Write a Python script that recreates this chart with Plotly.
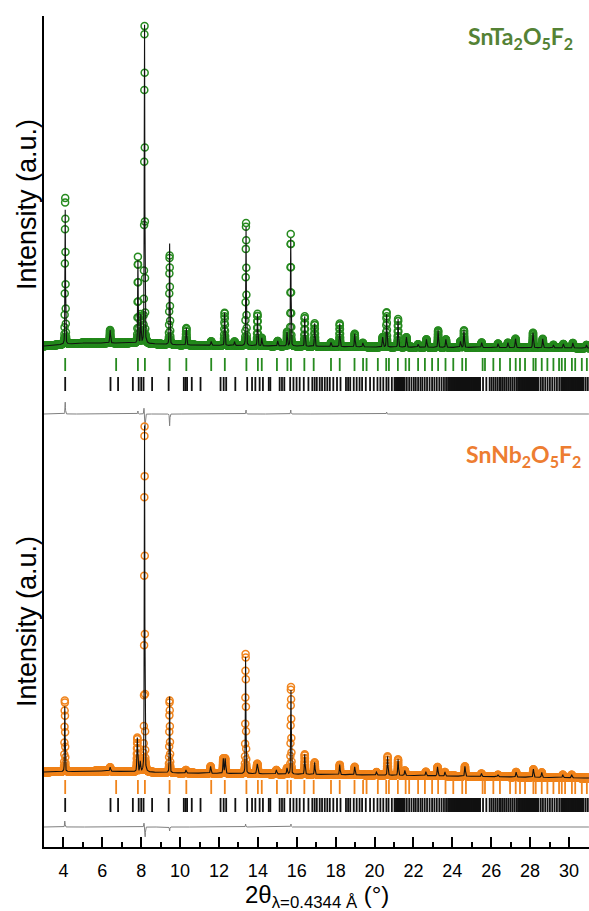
import numpy as np
import plotly.graph_objects as go

# ------------------------------------------------------------------
# DATA
# ------------------------------------------------------------------
# measurement grid (2theta, deg)
scan_start, scan_end, scan_step = 3.0, 31.03, 0.006

# --- SnTa2O5F2 (top pattern): calculated peaks ---
ta_peak_pos = [4.09, 6.40, 7.83, 7.98, 8.17, 9.46, 10.32, 11.60, 12.29, 12.80,
               13.39, 13.98, 14.20, 15.02, 15.50, 15.69, 16.41, 16.92, 17.76, 18.21,
               18.98, 19.40, 20.42, 20.62, 21.21, 21.64, 22.24, 22.67, 23.27, 23.67,
               24.42, 24.60, 25.51, 26.35, 26.86, 27.25, 28.15, 28.65, 29.20, 29.71,
               30.20, 30.90]
ta_peak_height = [136, 13, 83, 28, 322, 102, 17, 4, 33, 4,
                  120, 32, 8, 5, 14, 108, 30, 23, 4, 23,
                  13, 4, 10, 33, 28, 10, 3, 8, 17, 8,
                  6, 17, 5, 4, 5, 9, 15, 9, 3, 4,
                  5, 3]
ta_peak_fwhm = [0.035, 0.05, 0.035, 0.04, 0.035, 0.035, 0.045, 0.05, 0.04, 0.05,
                0.035, 0.04, 0.04, 0.05, 0.04, 0.035, 0.04, 0.04, 0.05, 0.04,
                0.045, 0.05, 0.05, 0.04, 0.04, 0.05, 0.05, 0.05, 0.045, 0.05,
                0.05, 0.045, 0.05, 0.05, 0.05, 0.05, 0.05, 0.05, 0.05, 0.05,
                0.05, 0.05]
# obs - calc residual features
ta_diff_pos = [4.09, 7.83, 8.14, 8.20, 9.46, 13.39, 15.69, 20.62]
ta_diff_amp = [12, 3, 6, -16, -12, 4, 4, 2]
# background anchor points
ta_bg_pos = [3.0, 5.0, 7.5, 10.0, 20.0, 31.0]
ta_bg_val = [4, 7, 7, 5, 3, 2]

# --- SnNb2O5F2 (bottom pattern): calculated peaks ---
nb_peak_pos = [4.07, 6.40, 7.80, 7.95, 8.17, 9.46, 10.30, 11.57, 12.22, 12.32,
               13.37, 13.97, 14.95, 15.50, 15.70, 16.41, 16.92, 18.21, 18.98, 20.10,
               20.67, 21.21, 21.56, 22.64, 23.24, 23.62, 24.65, 25.50, 26.35, 27.28,
               28.17, 28.60, 29.68, 30.14]
nb_peak_height = [66, 4, 34, 10, 350, 77, 3, 7, 15, 15,
                  118, 10, 4, 6, 85, 20, 12, 10, 8, 3,
                  19, 16, 5, 4, 9, 4, 10, 3, 2, 5,
                  8, 5, 3, 3]
nb_peak_fwhm = [0.035, 0.05, 0.05, 0.05, 0.035, 0.035, 0.05, 0.05, 0.05, 0.05,
                0.035, 0.07, 0.05, 0.05, 0.035, 0.045, 0.045, 0.045, 0.045, 0.05,
                0.045, 0.045, 0.05, 0.05, 0.05, 0.05, 0.05, 0.05, 0.05, 0.05,
                0.05, 0.05, 0.05, 0.05]
nb_diff_pos = [4.07, 8.14, 8.20, 9.46, 13.37, 15.70]
nb_diff_amp = [6, 4, -10, -4, 3, 3]
nb_bg_pos = [3.0, 6.0, 10.0, 20.0, 31.0]
nb_bg_val = [8, 9, 7, 5, 2]

# --- reflection markers ---
main_phase_refl = [4.09, 6.71, 7.83, 8.19, 9.46, 10.32, 11.60, 12.30, 13.41, 14.00,
                   14.20, 14.98, 15.52, 15.70, 16.39, 16.87, 17.76, 18.21, 18.97, 19.41,
                   19.59, 20.17, 20.60, 20.74, 21.20, 21.60, 21.78, 22.24, 22.59, 22.96,
                   23.27, 23.65, 24.05, 24.51, 24.70, 25.56, 25.68, 26.11, 26.45, 26.97,
                   27.26, 27.48, 27.74, 28.17, 28.29, 28.60, 28.89, 29.20, 29.49, 29.63,
                   29.80, 30.15, 30.32, 30.66, 30.92]
second_phase_refl = [4.09, 6.42, 6.81, 7.57, 7.87, 8.00, 8.12, 8.56, 9.41, 10.19,
                     10.28, 10.36, 10.60, 11.05, 12.08, 12.24, 12.37, 12.84, 13.45, 13.70,
                     13.87, 14.09, 14.26, 14.56, 14.64, 15.12, 15.24, 15.36, 15.66, 15.83,
                     15.99, 16.15, 16.36, 16.60, 16.80, 16.92, 17.03, 17.18, 17.30, 17.44,
                     17.57, 17.70, 17.88, 18.07, 18.25, 18.53, 18.64, 18.75, 18.93, 19.08,
                     19.23, 19.36, 19.55, 19.77, 19.96, 20.15, 20.30, 20.45, 20.61, 20.72,
                     20.89, 21.03, 21.10, 21.15, 21.20, 21.25, 21.30, 21.35, 21.40, 21.45,
                     21.50, 21.55, 21.66, 21.78, 21.90, 22.02, 22.12, 22.24, 22.36, 22.46,
                     22.58, 22.70, 22.83, 22.96, 23.08, 23.20, 23.33, 23.45, 23.57, 23.68,
                     23.78, 23.83, 23.88, 23.93, 23.98, 24.03, 24.08, 24.13, 24.18, 24.23,
                     24.28, 24.33, 24.38, 24.43, 24.48, 24.53, 24.58, 24.63, 24.68, 24.73,
                     24.78, 24.83, 24.88, 24.93, 24.98, 25.03, 25.08, 25.13, 25.18, 25.23,
                     25.28, 25.33, 25.38, 25.43, 25.58, 25.75, 25.92, 26.02, 26.12, 26.22,
                     26.32, 26.42, 26.50, 26.60, 26.70, 26.80, 26.90, 27.00, 27.10, 27.20,
                     27.30, 27.38, 27.43, 27.48, 27.53, 27.58, 27.63, 27.68, 27.73, 27.78,
                     27.83, 27.88, 27.93, 27.98, 28.03, 28.08, 28.13, 28.18, 28.23, 28.28,
                     28.33, 28.38, 28.43, 28.55, 28.66, 28.78, 28.90, 29.02, 29.14, 29.26,
                     29.38, 29.50, 29.60, 29.65, 29.70, 29.75, 29.80, 29.85, 29.90, 29.95,
                     30.00, 30.05, 30.10, 30.15, 30.20, 30.25, 30.30, 30.35, 30.40, 30.45,
                     30.50, 30.55, 30.60, 30.65, 30.70, 30.75, 30.86, 30.97]

# axis
x_range = [3.0, 31.03]
x_tick_vals = [4, 6, 8, 10, 12, 14, 16, 18, 20, 22, 24, 26, 28, 30]

# ------------------------------------------------------------------
# PROFILE BUILDING
# ------------------------------------------------------------------
tt = np.arange(scan_start, scan_end, scan_step)


def pseudo_voigt(x, pos, height, fwhm, eta=0.35):
    out = np.zeros_like(x)
    for p, h, w in zip(pos, height, fwhm):
        d = (x - p) / w
        g = np.exp(-4 * np.log(2) * d * d)
        l = 1.0 / (1.0 + 4 * d * d)
        out += h * (eta * l + (1 - eta) * g)
    return out


def patterns(pk_pos, pk_h, pk_w, df_pos, df_amp, bg_pos, bg_val):
    bg = np.interp(tt, bg_pos, bg_val)
    calc = bg + pseudo_voigt(tt, pk_pos, pk_h, pk_w)
    resid = pseudo_voigt(tt, df_pos, df_amp, [0.03] * len(df_pos), eta=0.2)
    obs = calc + resid
    return obs, calc, resid


ta_obs, ta_calc, ta_res = patterns(ta_peak_pos, ta_peak_height, ta_peak_fwhm,
                                   ta_diff_pos, ta_diff_amp, ta_bg_pos, ta_bg_val)
nb_obs, nb_calc, nb_res = patterns(nb_peak_pos, nb_peak_height, nb_peak_fwhm,
                                   nb_diff_pos, nb_diff_amp, nb_bg_pos, nb_bg_val)

# vertical stacking levels (in plot units)
Y_TOP = 831
ta_level, ta_tick1, ta_tick2, ta_diff_level = 497, (476, 489), (456, 470), 433
nb_level, nb_tick1, nb_tick2, nb_diff_level = 67, (53, 67), (35, 49), 20

GREEN = "#268a1f"
ORANGE = "#f0841c"
BLACK = "#111111"
GREY = "#7f7f7f"


def tick_segments(positions, y0, y1):
    xs, ys = [], []
    for p in positions:
        xs += [p, p, None]
        ys += [y0, y1, None]
    return xs, ys


fig = go.Figure()


def add_panel(obs, calc, res, level, t1, t2, dlevel, color):
    fig.add_trace(go.Scatter(x=tt, y=obs + level, mode="markers",
                             marker=dict(symbol="circle-open", size=7, color=color,
                                         line=dict(width=1.5, color=color)),
                             hoverinfo="skip", showlegend=False))
    fig.add_trace(go.Scatter(x=tt, y=calc + level, mode="lines",
                             line=dict(color=BLACK, width=1.1),
                             hoverinfo="skip", showlegend=False))
    xs, ys = tick_segments(main_phase_refl, *t1)
    fig.add_trace(go.Scatter(x=xs, y=ys, mode="lines", line=dict(color=color, width=1.8),
                             hoverinfo="skip", showlegend=False))
    xs, ys = tick_segments(second_phase_refl, *t2)
    fig.add_trace(go.Scatter(x=xs, y=ys, mode="lines", line=dict(color=BLACK, width=1.8),
                             hoverinfo="skip", showlegend=False))
    fig.add_trace(go.Scatter(x=tt, y=res + dlevel, mode="lines",
                             line=dict(color=GREY, width=1.0),
                             hoverinfo="skip", showlegend=False))


add_panel(ta_obs, ta_calc, ta_res, ta_level, ta_tick1, ta_tick2, ta_diff_level, GREEN)
add_panel(nb_obs, nb_calc, nb_res, nb_level, nb_tick1, nb_tick2, nb_diff_level, ORANGE)

AX_FONT = "Liberation Sans, Arial, sans-serif"

fig.update_layout(
    width=589, height=911,
    margin=dict(l=44, r=0, t=16, b=64),
    paper_bgcolor="white", plot_bgcolor="white",
    showlegend=False,
    xaxis=dict(range=x_range, showline=True, linecolor="black", linewidth=2,
               ticks="inside", ticklen=10, tickwidth=1.6, tickcolor="black",
               tickvals=x_tick_vals, ticktext=[str(v) for v in x_tick_vals],
               ticklabelstandoff=6,
               minor=dict(dtick=1, tick0=0, ticks="inside", ticklen=5, tickwidth=1.6,
                          tickcolor="black"),
               showgrid=False, zeroline=False,
               tickfont=dict(family=AX_FONT, size=18, color="black")),
    yaxis=dict(range=[0, Y_TOP], showline=True, linecolor="black", linewidth=2,
               showticklabels=False, ticks="", showgrid=False, zeroline=False),
)

annotations = [
    dict(text="<b>SnTa<sub>2</sub>O<sub>5</sub>F<sub>2</sub></b>", x=30.31, y=810,
         xref="x", yref="y", xanchor="right", yanchor="middle", showarrow=False,
         font=dict(family="Lato, Open Sans, sans-serif", size=23, color="#548235")),
    dict(text="<b>SnNb<sub>2</sub>O<sub>5</sub>F<sub>2</sub></b>", x=30.72, y=392,
         xref="x", yref="y", xanchor="right", yanchor="middle", showarrow=False,
         font=dict(family="Lato, Open Sans, sans-serif", size=23, color="#ed7d31")),
    dict(text="Intensity (a.u.)", textangle=-90, x=-0.031, y=642,
         xref="paper", yref="y", xanchor="center", yanchor="middle", showarrow=False,
         font=dict(family=AX_FONT, size=27, color="black")),
    dict(text="Intensity (a.u.)", textangle=-90, x=-0.031, y=225,
         xref="paper", yref="y", xanchor="center", yanchor="middle", showarrow=False,
         font=dict(family=AX_FONT, size=27, color="black")),
    dict(text="2θ<sub>λ=0.4344 Å</sub> (°)", x=0.5, y=-0.060,
         xref="paper", yref="paper", xanchor="center", yanchor="middle", showarrow=False,
         font=dict(family=AX_FONT, size=24, color="black")),
]
fig.update_layout(annotations=annotations)

fig.write_html("out.html")
